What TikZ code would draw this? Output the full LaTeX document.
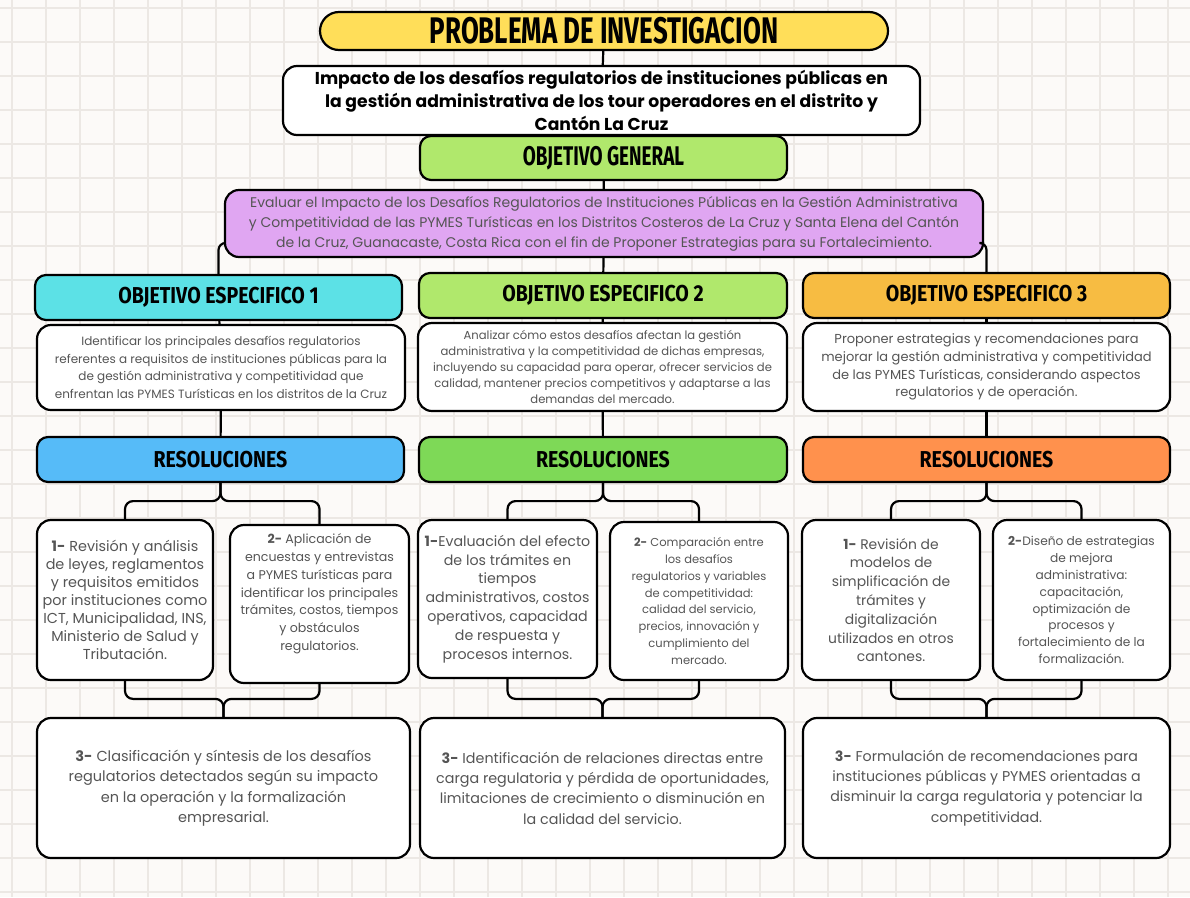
\documentclass[tikz,border=0pt]{standalone}
\usepackage{fontspec}
\usetikzlibrary{calc}
\setmainfont{Poppins}
\newfontfamily\headfont[FakeStretch=0.7]{Fira Sans}
\newfontfamily\headwide[FakeStretch=0.85]{Fira Sans}
\definecolor{paper}{HTML}{FCFAF8}
\definecolor{gridc}{HTML}{ECE8E4}
\definecolor{txtgray}{HTML}{555555}
\definecolor{cyellow}{HTML}{FFDE59}
\definecolor{cgreen}{HTML}{B0E86C}
\definecolor{cpurple}{HTML}{E0A6F2}
\definecolor{ccyan}{HTML}{5CE1E6}
\definecolor{corange}{HTML}{F7BC42}
\definecolor{cblue}{HTML}{56BBF8}
\definecolor{cgreentwo}{HTML}{7ED957}
\definecolor{cred}{HTML}{FF914D}
\begin{document}
\begin{tikzpicture}[x=1pt,y=-1pt,line width=2.2pt]
\tikzstyle{box}=[draw=black,fill=white,rounded corners=14pt,inner sep=0pt,align=center,text=txtgray]
\tikzstyle{head}=[box,rounded corners=11pt,text=black,font=\headwide\bfseries\fontsize{23}{25}\selectfont]
\tikzstyle{sub}=[box,minimum width=178pt,minimum height=158pt]
\tikzstyle{res}=[box,minimum width=367pt,minimum height=140pt]
\tikzstyle{conn}=[draw=black,line width=2.2pt,rounded corners=8pt]
\useasboundingbox (0,0) rectangle (1190,897);
\fill[paper] (0,0) rectangle (1190,897);
\foreach \gx in {12,46,...,1190} \draw[gridc,line width=1.2pt] (\gx,0) -- (\gx,897);
\foreach \gy in {8,42,...,897} \draw[gridc,line width=1.2pt] (0,\gy) -- (1190,\gy);

\node[head,fill=cyellow,rounded corners=19pt,minimum width=568pt,minimum height=38pt,font=\headfont\bfseries\fontsize{37}{39}\selectfont] (titulo) at (604,31) {PROBLEMA DE INVESTIGACION};
\node[box,text=black,minimum width=637pt,minimum height=69pt,font=\bfseries\fontsize{17.2}{23}\selectfont] (problema) at (601.5,100.5) {Impacto de los desafíos regulatorios de instituciones públicas en\\la gestión administrativa de los tour operadores en el distrito y\\Cantón La Cruz};
\node[head,fill=cgreen,minimum width=367pt,minimum height=44pt,font=\headfont\bfseries\fontsize{27}{29}\selectfont] (general) at (603.5,158) {OBJETIVO GENERAL};
\node[box,fill=cpurple,minimum width=758pt,minimum height=67pt,font=\fontsize{14}{20}\selectfont] (evaluar) at (604,223.5) {Evaluar el Impacto de los Desafíos Regulatorios de Instituciones Públicas en la Gestión Administrativa\\y Competitividad de las PYMES Turísticas en los Distritos Costeros de La Cruz y Santa Elena del Cantón\\de la Cruz, Guanacaste, Costa Rica con el fin de Proponer Estrategias para su Fortalecimiento.};

\node[head,fill=ccyan,minimum width=367pt,minimum height=45pt] (esp1) at (218.5,297.5) {OBJETIVO ESPECIFICO 1};
\node[head,fill=cgreen,minimum width=368pt,minimum height=45pt] (esp2) at (603,295.5) {OBJETIVO ESPECIFICO 2};
\node[head,fill=corange,minimum width=367pt,minimum height=45pt] (esp3) at (986.5,295.5) {OBJETIVO ESPECIFICO 3};

\node[box,minimum width=368pt,minimum height=85pt,font=\fontsize{12}{17.5}\selectfont] (desc1) at (221,367.5) {Identificar los principales desafíos regulatorios\\referentes a requisitos de instituciones públicas para la\\de gestión administrativa y competitividad que\\enfrentan las PYMES Turísticas en los distritos de la Cruz};
\node[box,minimum width=369pt,minimum height=88pt,font=\fontsize{11.6}{15.8}\selectfont] (desc2) at (602.5,367) {Analizar cómo estos desafíos afectan la gestión\\administrativa y la competitividad de dichas empresas,\\incluyendo su capacidad para operar, ofrecer servicios de\\calidad, mantener precios competitivos y adaptarse a las\\demandas del mercado.};
\node[box,minimum width=367pt,minimum height=88pt,font=\fontsize{13}{17.8}\selectfont] (desc3) at (986.5,367) {Proponer estrategias y recomendaciones para\\mejorar la gestión administrativa y competitividad\\de las PYMES Turísticas, considerando aspectos\\regulatorios y de operación.};

\node[head,fill=cblue,minimum width=367pt,minimum height=45pt] (reso1) at (220.5,459.5) {RESOLUCIONES};
\node[head,fill=cgreentwo,minimum width=368pt,minimum height=45pt] (reso2) at (603,459.5) {RESOLUCIONES};
\node[head,fill=cred,minimum width=367pt,minimum height=45pt] (reso3) at (986.5,459.5) {RESOLUCIONES};

\node[sub,minimum width=176pt,minimum height=160pt,font=\fontsize{14.4}{18}\selectfont] (r11) at (125,600) {\textbf{1-} Revisión y análisis\\de leyes, reglamentos\\y requisitos emitidos\\por instituciones como\\ICT, Municipalidad, INS,\\Ministerio de Salud y\\Tributación.};
\node[sub,minimum width=179pt,font=\fontsize{12.6}{17.8}\selectfont] (r12) at (319.5,604) {\textbf{2-} Aplicación de\\encuestas y entrevistas\\a PYMES turísticas para\\identificar los principales\\trámites, costos, tiempos\\y obstáculos\\regulatorios.\\[6pt]};
\node[sub,minimum width=179pt,font=\fontsize{14.2}{18.8}\selectfont] (r21) at (507.5,599) {\textbf{1-}Evaluación del efecto\\de los trámites en\\tiempos\\administrativos, costos\\operativos, capacidad\\de respuesta y\\procesos internos.};
\node[sub,font=\fontsize{11.5}{16.9}\selectfont] (r22) at (699,601) {\textbf{2-} Comparación entre\\los desafíos\\regulatorios y variables\\de competitividad:\\calidad del servicio,\\precios, innovación y\\cumplimiento del\\mercado.};
\node[sub,minimum height=160pt,font=\fontsize{13.9}{18.8}\selectfont] (r31) at (891,600) {\textbf{1-} Revisión de\\modelos de\\simplificación de\\trámites y\\digitalización\\utilizados en otros\\cantones.};
\node[sub,minimum width=177pt,minimum height=160pt,font=\fontsize{12.2}{16.9}\selectfont] (r32) at (1081.5,600) {\textbf{2-}Diseño de estrategias\\de mejora\\administrativa:\\capacitación,\\optimización de\\procesos y\\fortalecimiento de la\\formalización.};

\node[res,minimum width=373pt,font=\fontsize{14.5}{20.3}\selectfont] (fin1) at (223.5,788) {\textbf{3-} Clasificación y síntesis de los desafíos\\regulatorios detectados según su impacto\\en la operación y la formalización\\empresarial.};
\node[res,minimum width=365pt,font=\fontsize{14.3}{20.3}\selectfont] (fin2) at (602.5,788) {\textbf{3-} Identificación de relaciones directas entre\\carga regulatoria y pérdida de oportunidades,\\limitaciones de crecimiento o disminución en\\la calidad del servicio.};
\node[res,font=\fontsize{14.2}{20.3}\selectfont] (fin3) at (986.5,788) {\textbf{3-} Formulación de recomendaciones para\\instituciones públicas y PYMES orientadas a\\disminuir la carga regulatoria y potenciar la\\competitividad.};

\draw[conn] (titulo) -- (problema);
\draw[conn] (problema) -- (general);
\draw[conn] (general) -- (evaluar);
\draw[conn] (evaluar) -- (esp2);
\draw[conn,rounded corners=7pt] (evaluar.west |- 0,243) -| (esp1.north);
\draw[conn,rounded corners=7pt] (evaluar.east |- 0,243) -| (esp3.north);
\foreach \k in {1,2,3} {
  \draw[conn] (esp\k) -- (desc\k);
  \draw[conn] (desc\k) -- (reso\k);
  \draw[conn] (reso\k.south) -- ++(0,18) -| (r\k1.north);
  \draw[conn] (reso\k.south) -- ++(0,18) -| (r\k2.north);
  \draw[conn] (r\k1.south) |- ($(fin\k.north)+(0,-18)$) -- (fin\k.north);
  \draw[conn] (r\k2.south) |- ($(fin\k.north)+(0,-18)$) -- (fin\k.north);
}
\end{tikzpicture}
\end{document}
